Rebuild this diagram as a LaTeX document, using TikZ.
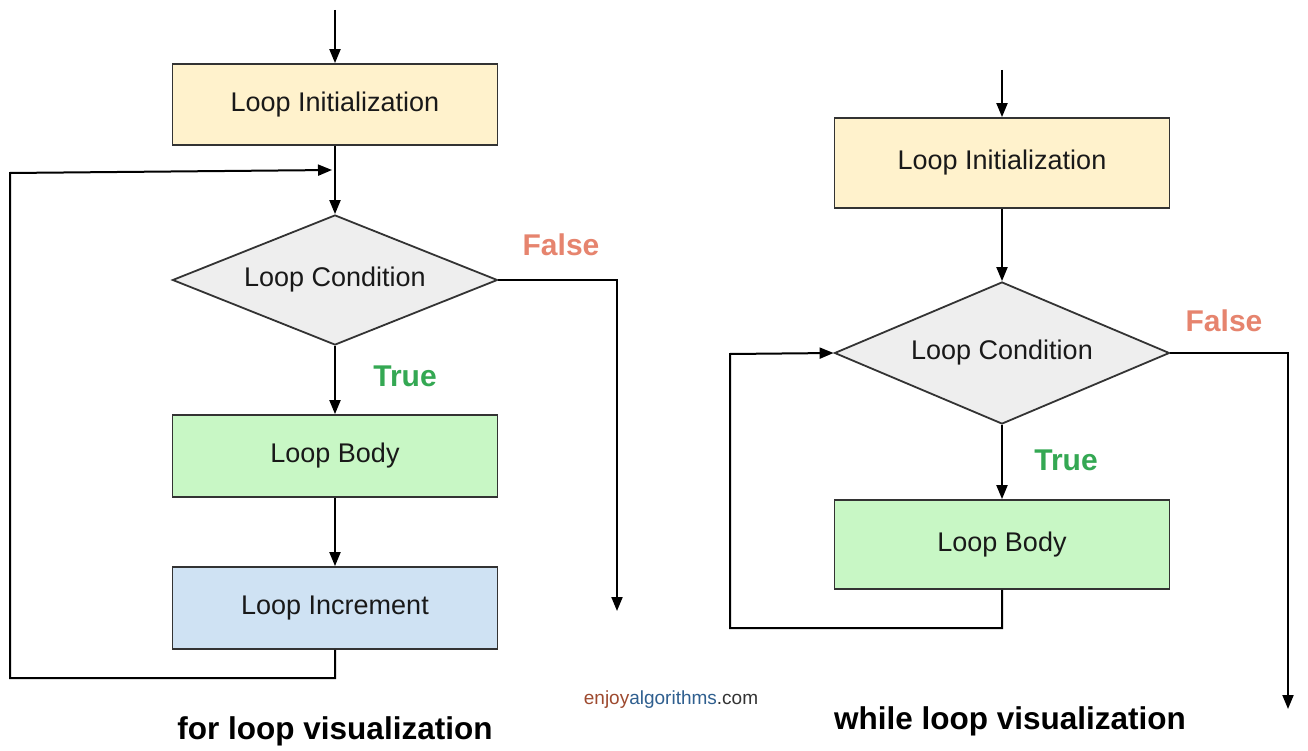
\documentclass[tikz,border=0pt]{standalone}
\usepackage{fontspec}
\setmainfont{Liberation Sans}
\usetikzlibrary{shapes.geometric,arrows.meta}
\definecolor{initfill}{HTML}{FFF2CC}
\definecolor{condfill}{HTML}{EEEEEE}
\definecolor{bodyfill}{HTML}{C8F7C5}
\definecolor{incfill}{HTML}{CFE2F3}
\definecolor{boxline}{HTML}{333333}
\definecolor{falsecol}{HTML}{E6846E}
\definecolor{truecol}{HTML}{34A853}
\definecolor{enjoycol}{HTML}{9E4A2F}
\definecolor{algocol}{HTML}{2F5F8F}
\definecolor{comcol}{HTML}{333333}
\tikzset{
  x=1pt,y=-1pt,
  lbl/.style={font=\fontsize{27}{32}\selectfont, text=black!90},
  procbox/.style={lbl, draw=boxline, line width=1.8pt, inner sep=0pt},
  condbox/.style={lbl, diamond, draw=boxline, line width=1.8pt, fill=condfill, inner sep=0pt},
  conn/.style={line width=2pt, -{Triangle[length=14pt,width=11pt]}},
  tflabel/.style={font=\bfseries\fontsize{30}{34}\selectfont},
  caption/.style={font=\bfseries\fontsize{31.5}{36}\selectfont, text=black},
}
\begin{document}
\begin{tikzpicture}
\useasboundingbox[fill=white] (0,0) rectangle (1308,751);
% ---------- left: for loop ----------
\coordinate (s1) at (335,10);
\node[procbox, fill=initfill, minimum width=325pt, minimum height=81pt] (init1) at (335,104.5) {Loop Initialization};
\node[condbox, minimum width=325pt, minimum height=130pt, aspect=2.5] (cond1) at (335,280) {Loop Condition};
\node[procbox, fill=bodyfill, minimum width=325pt, minimum height=82pt] (body1) at (335,456) {Loop Body};
\node[procbox, fill=incfill, minimum width=325pt, minimum height=82pt] (inc1) at (335,608) {Loop Increment};
\node[tflabel, text=falsecol] (false1) at (561,245) {False};
\node[tflabel, text=truecol] (true1) at (405,376) {True};
\coordinate (f1a) at (617,280);
\coordinate (f1b) at (617,611);
\coordinate (b1a) at (335,678);
\coordinate (b1b) at (10,678);
\coordinate (b1c) at (10,173);
\coordinate (b1d) at (332,170);
\draw[conn] (s1) -- (init1.north);
\draw[conn] (init1.south) -- (cond1.north);
\draw[conn] (cond1.south) -- (body1.north);
\draw[conn] (body1.south) -- (inc1.north);
\draw[conn] (cond1.east) -- (f1a) -- (f1b);
\draw[conn] (inc1.south) -- (b1a) -- (b1b) -- (b1c) -- (b1d);
\node[caption] (cap1) at (335,731) {for loop visualization};
% ---------- right: while loop ----------
\coordinate (s2) at (1002,70);
\node[procbox, fill=initfill, minimum width=335pt, minimum height=90pt] (init2) at (1002,163) {Loop Initialization};
\node[condbox, minimum width=335pt, minimum height=142pt, aspect=2.36] (cond2) at (1002,353) {Loop Condition};
\node[procbox, fill=bodyfill, minimum width=335pt, minimum height=89pt] (body2) at (1002,544.5) {Loop Body};
\node[tflabel, text=falsecol] (false2) at (1224,321) {False};
\node[tflabel, text=truecol] (true2) at (1066,460) {True};
\coordinate (f2a) at (1288,353);
\coordinate (f2b) at (1288,709);
\coordinate (b2a) at (1002,628);
\coordinate (b2b) at (730,628);
\coordinate (b2c) at (730,354);
\draw[conn] (s2) -- (init2.north);
\draw[conn] (init2.south) -- (cond2.north);
\draw[conn] (cond2.south) -- (body2.north);
\draw[conn] (cond2.east) -- (f2a) -- (f2b);
\draw[conn] (body2.south) -- (b2a) -- (b2b) -- (b2c) -- (cond2.west);
\node[caption] (cap2) at (1010,721) {while loop visualization};
% ---------- watermark ----------
\node[font=\fontsize{19}{22}\selectfont] (wm) at (671,700) {\textcolor{enjoycol}{enjoy}\textcolor{algocol}{algorithms}\textcolor{comcol}{.com}};
\end{tikzpicture}
\end{document}
